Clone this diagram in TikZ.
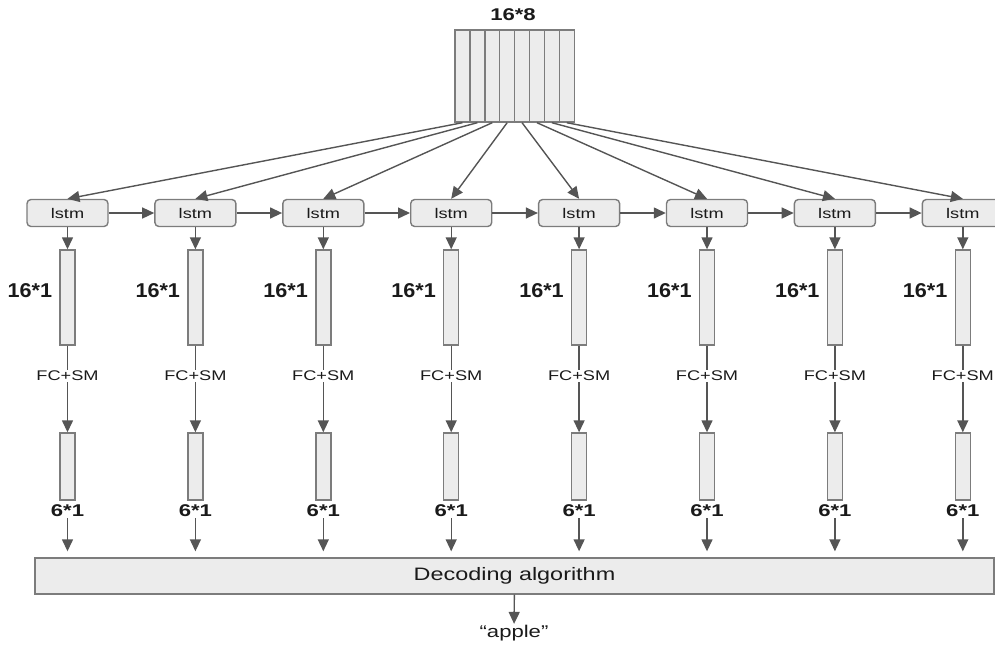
\documentclass[tikz,border=0pt]{standalone}
\usepackage{fontspec}
\setmainfont{Liberation Sans}[FakeStretch=1.3]
\newfontfamily\numfont{Liberation Sans}[FakeStretch=1.08]
\usetikzlibrary{positioning,arrows.meta}

\definecolor{cellfill}{HTML}{ECECEC}
\definecolor{cellline}{HTML}{7C7C7C}
\definecolor{arrowgray}{HTML}{555555}
\definecolor{txt}{HTML}{1A1A1A}

\begin{document}
\begin{tikzpicture}[
  x=1pt, y=-1pt,
  cell/.style={rectangle, draw=cellline, fill=cellfill, line width=1.4pt, inner sep=0pt},
  lstmbox/.style={cell, rounded corners=4pt, minimum width=81pt, minimum height=27pt,
                  text=txt, font=\fontsize{14}{16}\selectfont},
  hidbar/.style={cell, minimum width=15pt, minimum height=95pt},
  outbar/.style={cell, minimum width=15pt, minimum height=67pt},
  dimtxt/.style={text=txt, inner sep=1pt},
  flecha/.style={-{Triangle[length=12pt, width=11pt]}, line width=1.4pt, draw=arrowgray, color=arrowgray},
  linea/.style={line width=1.4pt, draw=arrowgray}
]
\useasboundingbox (0,0) rectangle (995,646);

% ---------------- Entrada 16*8 ----------------
\foreach \i in {1,...,8}
  \node[cell, minimum width=14.9pt, minimum height=92pt] (col\i) at ({455+14.9*(\i-0.5)},76) {};
\node[dimtxt, font=\bfseries\fontsize{17}{19}\selectfont] (inlabel) at (513,15) {16*8};

% ---------------- Columnas por paso ----------------
\foreach \i in {1,...,8} {
  \node[lstmbox] (lstm\i) at ({67.5+127.9*(\i-1)},213) {lstm};
  \node[hidbar] (hid\i) at ({67.5+127.9*(\i-1)},297.5) {};
  \node[dimtxt, font=\numfont\bfseries\fontsize{20}{22}\selectfont, left=6pt of hid\i, yshift=7pt] (lab16\i) {16*1};
  \node[dimtxt, font=\fontsize{14}{16}\selectfont] (fc\i) at ({67.5+127.9*(\i-1)},376) {FC+SM};
  \node[outbar] (out\i) at ({67.5+127.9*(\i-1)},466.5) {};
  \node[dimtxt, font=\bfseries\fontsize{17}{19}\selectfont] (lab6\i) at ({67.5+127.9*(\i-1)},511) {6*1};
}

% ---------------- Decodificacion ----------------
\node[cell, minimum width=959pt, minimum height=36pt, text=txt,
      font=\fontsize{18}{20}\selectfont] (dec) at (514.5,576) {Decoding algorithm};
\node[dimtxt, font=\fontsize{17}{19}\selectfont] (word) at (514,633) {“apple”};

% ---------------- Flechas ----------------
\foreach \i in {1,...,8} {
  \draw[flecha] (col\i.south) -- (lstm\i.north);
  \draw[flecha] (lstm\i) -- (hid\i);
  \draw[linea] (hid\i) -- (fc\i);
  \draw[flecha] (fc\i) -- (out\i);
  \draw[flecha, shorten >=6pt] (lab6\i) -- (lab6\i|-dec.north);
}
\foreach \i [evaluate=\i as \j using int(\i+1)] in {1,...,7}
  \draw[flecha] (lstm\i) -- (lstm\j);
\draw[flecha] (dec) -- (word);

\end{tikzpicture}
\end{document}
